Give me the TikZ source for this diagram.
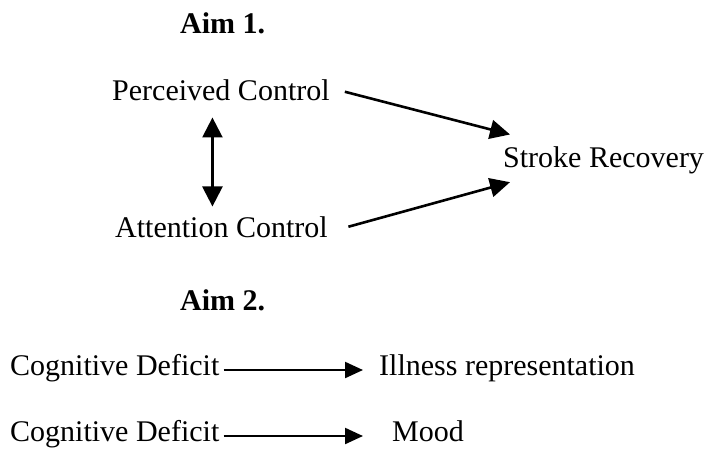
\documentclass[tikz,border=0pt]{standalone}
\usepackage{fontspec}
\setmainfont{Liberation Serif}
\usetikzlibrary{arrows.meta}
\begin{document}
\begin{tikzpicture}[x=1pt,y=-1pt,
  lbl/.style={inner sep=0pt,anchor=base west,font=\fontsize{30}{36}\selectfont},
  ttl/.style={lbl,font=\fontsize{30}{36}\selectfont\bfseries},
  bigarrow/.style={line width=2.6pt,-{Triangle[length=20pt,width=19pt]}},
  dblarrow/.style={line width=2.4pt,{Triangle[length=20pt,width=20pt]}-{Triangle[length=20pt,width=20pt]}},
  smallarrow/.style={line width=2.2pt,-{Triangle[length=18pt,width=16pt]}}]
\useasboundingbox (0,0) rectangle (710,451);
\node[ttl] (aim1) at (180,33) {Aim 1.};
\node[lbl] (pc) at (112,100) {Perceived Control};
\node[lbl] (ac) at (115,237) {Attention Control};
\node[lbl] (sr) at (503,167) {Stroke Recovery};
\node[ttl] (aim2) at (180,310) {Aim 2.};
\node[lbl] (cd1) at (10,375) {Cognitive Deficit};
\node[lbl] (ir) at (379,375) {Illness representation};
\node[lbl] (cd2) at (10,441) {Cognitive Deficit};
\node[lbl] (mood) at (392,441) {Mood};
\coordinate (vb) at ([xshift=-9pt,yshift=9.5pt]ac.north);
\coordinate (vt) at ([yshift=-17pt]pc.south);
\draw[bigarrow] ([xshift=15pt,yshift=-2pt]pc.east) -- ([xshift=7pt,yshift=11.5pt]sr.north west);
\draw[bigarrow] ([xshift=20.5pt]ac.east) -- ([xshift=7pt,yshift=-8.5pt]sr.south west);
\draw[dblarrow] (vt -| vb) -- (vb);
\draw[smallarrow] ([xshift=4pt,yshift=5pt]cd1.base east) -- ([xshift=-16pt,yshift=5pt]ir.base west);
\draw[smallarrow] ([xshift=4pt,yshift=5pt]cd2.base east) -- ([xshift=-29pt,yshift=5pt]mood.base west);
\end{tikzpicture}
\end{document}
